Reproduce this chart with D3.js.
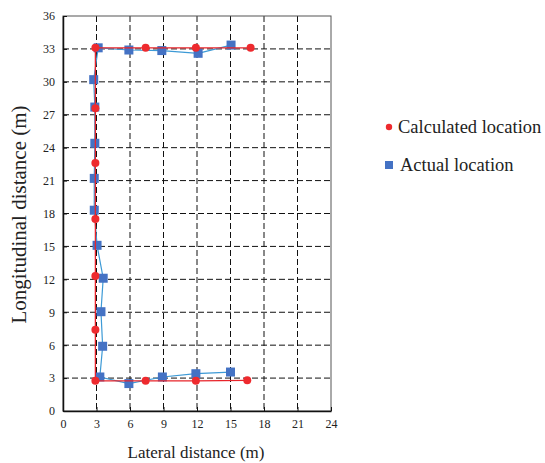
<!DOCTYPE html>
<html>
<head>
<meta charset="utf-8">
<script src="https://cdn.jsdelivr.net/npm/d3@7"></script>
<style>
  body { margin: 0; background: #fff; }
  text { font-family: "Liberation Serif", "Times New Roman", serif; fill: #222; }
</style>
</head>
<body>
<div id="chart"></div>
<script>
// calculated location (red)
const calcX = [16.5, 11.9, 7.4, 2.9, 2.9, 2.9, 2.9, 2.9, 2.9, 2.9, 7.4, 11.9, 16.8];
const calcY = [2.8, 2.75, 2.75, 2.75, 7.4, 12.3, 17.5, 22.6, 27.6, 33.1, 33.1, 33.1, 33.1];
// actual location (blue)
const actX = [15.0, 11.9, 8.9, 5.9, 3.3, 3.55, 3.4, 3.6, 3.05, 2.8, 2.8, 2.85, 2.85, 2.75, 3.15, 5.9, 8.85, 12.1, 15.05];
const actY = [3.55, 3.4, 3.1, 2.5, 3.1, 5.9, 9.05, 12.1, 15.1, 18.3, 21.2, 24.4, 27.7, 30.2, 33.1, 32.9, 32.85, 32.6, 33.35];
const xTicks = [0, 3, 6, 9, 12, 15, 18, 21, 24];
const yTicks = [0, 3, 6, 9, 12, 15, 18, 21, 24, 27, 30, 33, 36];
const legendNames = ['Calculated location', 'Actual location'];

const width = 545, height = 463;
const m = { left: 63, right: 214, top: 16, bottom: 52 };

const svg = d3.select('#chart').append('svg')
  .attr('width', width)
  .attr('height', height);

const x = d3.scaleLinear().domain([0, 24]).range([m.left, width - m.right]);
const y = d3.scaleLinear().domain([0, 36]).range([height - m.bottom, m.top]);

// grid
const grid = svg.append('g')
  .attr('stroke', '#111')
  .attr('stroke-width', 1)
  .attr('stroke-dasharray', '6,3');
grid.selectAll('.vg')
  .data(xTicks.slice(1, -1))
  .join('line')
  .attr('x1', (d) => x(d)).attr('x2', (d) => x(d))
  .attr('y1', y(36)).attr('y2', y(0));
grid.selectAll('.hg')
  .data(yTicks.slice(1, -1))
  .join('line')
  .attr('x1', x(0)).attr('x2', x(24))
  .attr('y1', (d) => y(d)).attr('y2', (d) => y(d));

// frame
svg.append('rect')
  .attr('x', x(0)).attr('y', y(36))
  .attr('width', x(24) - x(0)).attr('height', y(0) - y(36))
  .attr('fill', 'none')
  .attr('stroke', '#555')
  .attr('stroke-width', 1);

// axes
const xAxis = svg.append('g')
  .attr('transform', `translate(0,${y(0)})`)
  .call(d3.axisBottom(x).tickValues(xTicks).tickSizeInner(-4).tickSizeOuter(0).tickPadding(8));
const yAxis = svg.append('g')
  .attr('transform', `translate(${x(0)},0)`)
  .call(d3.axisLeft(y).tickValues(yTicks).tickSizeInner(-4).tickSizeOuter(0).tickPadding(8));
[xAxis, yAxis].forEach((a) => {
  a.select('.domain').attr('stroke', '#111').attr('stroke-width', 1.5);
  a.selectAll('.tick line').attr('stroke', '#111');
  a.selectAll('text')
    .attr('font-family', '"Liberation Serif", serif')
    .attr('font-size', 12)
    .attr('fill', '#222');
});

// titles
svg.append('text')
  .attr('x', (x(0) + x(24)) / 2 - 1)
  .attr('y', 458)
  .attr('text-anchor', 'middle')
  .attr('font-size', 17)
  .text('Lateral distance (m)');
svg.append('text')
  .attr('transform', `translate(26,${(y(0) + y(36)) / 2 + 1}) rotate(-90)`)
  .attr('text-anchor', 'middle')
  .attr('font-size', 21)
  .text('Longitudinal distance (m)');

// actual series
const act = actX.map((v, i) => [v, actY[i]]);
const calc = calcX.map((v, i) => [v, calcY[i]]);
const line = d3.line().x((d) => x(d[0])).y((d) => y(d[1]));

svg.append('path')
  .attr('d', line(act))
  .attr('fill', 'none')
  .attr('stroke', '#3d9ad6')
  .attr('stroke-width', 1.2);
svg.append('g')
  .selectAll('rect')
  .data(act)
  .join('rect')
  .attr('x', (d) => x(d[0]) - 4.5)
  .attr('y', (d) => y(d[1]) - 4.5)
  .attr('width', 9).attr('height', 9)
  .attr('fill', '#4472c4');

// calculated series
svg.append('path')
  .attr('d', line(calc))
  .attr('fill', 'none')
  .attr('stroke', '#e8242a')
  .attr('stroke-width', 1.3);
svg.append('g')
  .selectAll('circle')
  .data(calc)
  .join('circle')
  .attr('cx', (d) => x(d[0]))
  .attr('cy', (d) => y(d[1]))
  .attr('r', 4)
  .attr('fill', '#ee2a2e');

// legend
const lg = svg.append('g');
lg.append('circle').attr('cx', 389).attr('cy', 127).attr('r', 3.2).attr('fill', '#ee2a2e');
lg.append('text').attr('x', 398).attr('y', 133).attr('font-size', 18.5).text(legendNames[0]);
lg.append('rect').attr('x', 385).attr('y', 161).attr('width', 8).attr('height', 8).attr('fill', '#4472c4');
lg.append('text').attr('x', 400).attr('y', 171).attr('font-size', 18.5).text(legendNames[1]);
</script>
</body>
</html>
